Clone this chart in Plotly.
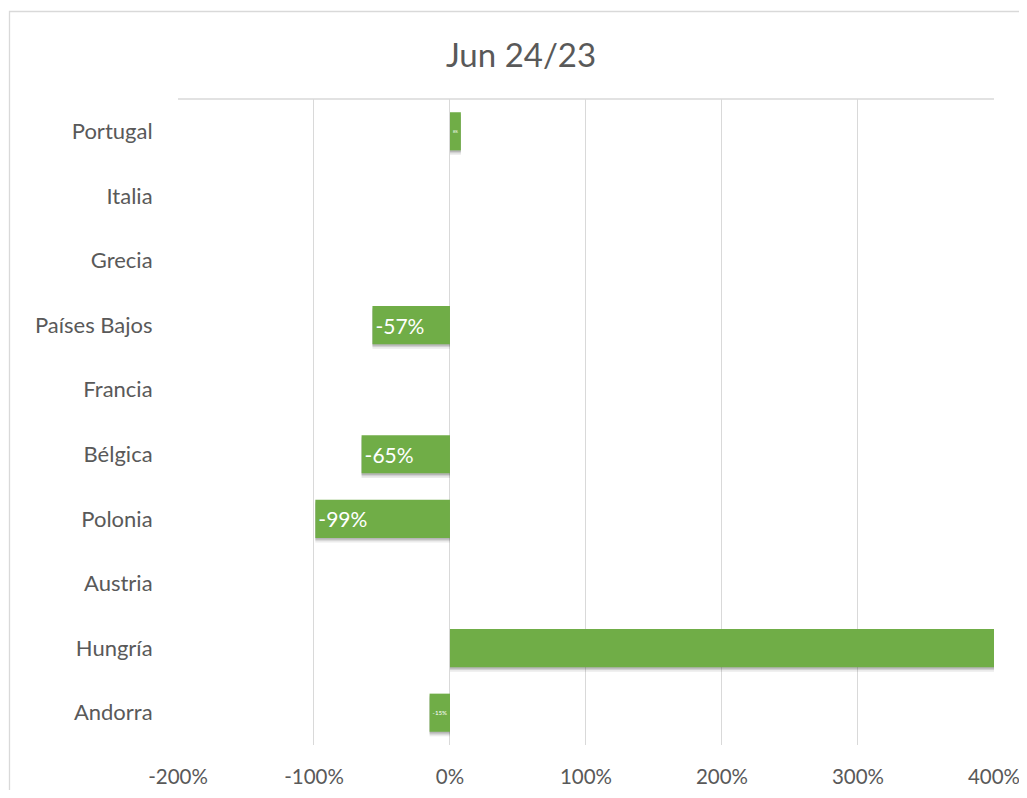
import plotly.graph_objects as go

categories = ["Portugal", "Italia", "Grecia", "Países Bajos", "Francia",
              "Bélgica", "Polonia", "Austria", "Hungría", "Andorra"]
values = [0.08, None, None, -0.57, None, -0.65, -0.99, None, 5.0, -0.15]
labels = ["8%", "", "", "-57%", "", "-65%", "-99%", "", "", "-15%"]
tick_vals = [-2, -1, 0, 1, 2, 3, 4]
tick_text = ["-200%", "-100%", "0%", "100%", "200%", "300%", "400%"]
title_text = "Jun 24/23"

# page has an 8px body margin; keep the figure inside the viewport
OFF = 8
W, H = 1027 - 2 * OFF, 798 - 2 * OFF
L, T = 178 - OFF, 99 - OFF
R = W - (994 - OFF)
B = H - (745 - OFF)
pw, ph = W - L - R, H - T - B

def px_x(p):
    return (p - OFF - L) / pw

def px_y(p):
    return (H - B - (p - OFF)) / ph

FONT = "Lato"
TXT = "#595959"
GRID = "#d9d9d9"
BW = 0.59

fig = go.Figure()
for sh, op in [(0.07, 0.10), (0.045, 0.14), (0.025, 0.18)]:
    fig.add_trace(go.Bar(
        y=categories, x=values, orientation="h",
        width=BW, offset=-BW / 2 + sh,
        marker=dict(color="rgba(60,60,60,%.2f)" % op, line=dict(width=0)),
        hoverinfo="skip", showlegend=False,
    ))
fig.add_trace(go.Bar(
    y=categories, x=values, orientation="h",
    width=BW, offset=-BW / 2,
    marker=dict(color="#70AD47", line=dict(width=0)),
    text=labels, textposition="inside", insidetextanchor="end", textangle=0,
    textfont=dict(family=FONT, size=21, color="white"),
    cliponaxis=True, hoverinfo="skip",
))

fig.update_layout(
    width=W, height=H,
    margin=dict(l=L, r=R, t=T, b=B, autoexpand=False),
    paper_bgcolor="white", plot_bgcolor="white",
    showlegend=False,
    barmode="overlay",
    title=dict(text=title_text, x=px_x(521), xref="paper", xanchor="center",
               y=1 - (55 - OFF) / H, yanchor="middle", yref="container",
               font=dict(family=FONT, size=33, color=TXT)),
    xaxis=dict(range=[-2, 4.0005], tickvals=tick_vals, ticktext=tick_text,
               showgrid=True, gridcolor=GRID, gridwidth=1.3,
               zeroline=True, zerolinecolor=GRID, zerolinewidth=1.3,
               ticks="outside", tickcolor="rgba(0,0,0,0)", ticklen=13,
               tickfont=dict(family=FONT, size=20.5, color=TXT),
               ticklabeloverflow="allow",
               showline=False, fixedrange=True, automargin=False),
    yaxis=dict(autorange="reversed", type="category",
               showgrid=False, ticks="outside", tickcolor="rgba(0,0,0,0)",
               ticklen=20, tickfont=dict(family=FONT, size=22, color=TXT),
               showline=False, fixedrange=True, automargin=False),
    shapes=[
        dict(type="line", xref="paper", yref="paper", x0=0, x1=1, y0=1, y1=1,
             line=dict(color=GRID, width=1.3)),
        dict(type="rect", xref="paper", yref="paper",
             x0=px_x(9.5), x1=px_x(1040), y0=px_y(11.5), y1=px_y(810),
             line=dict(color=GRID, width=1.3), layer="below"),
    ],
)

fig.write_html("out.html")
